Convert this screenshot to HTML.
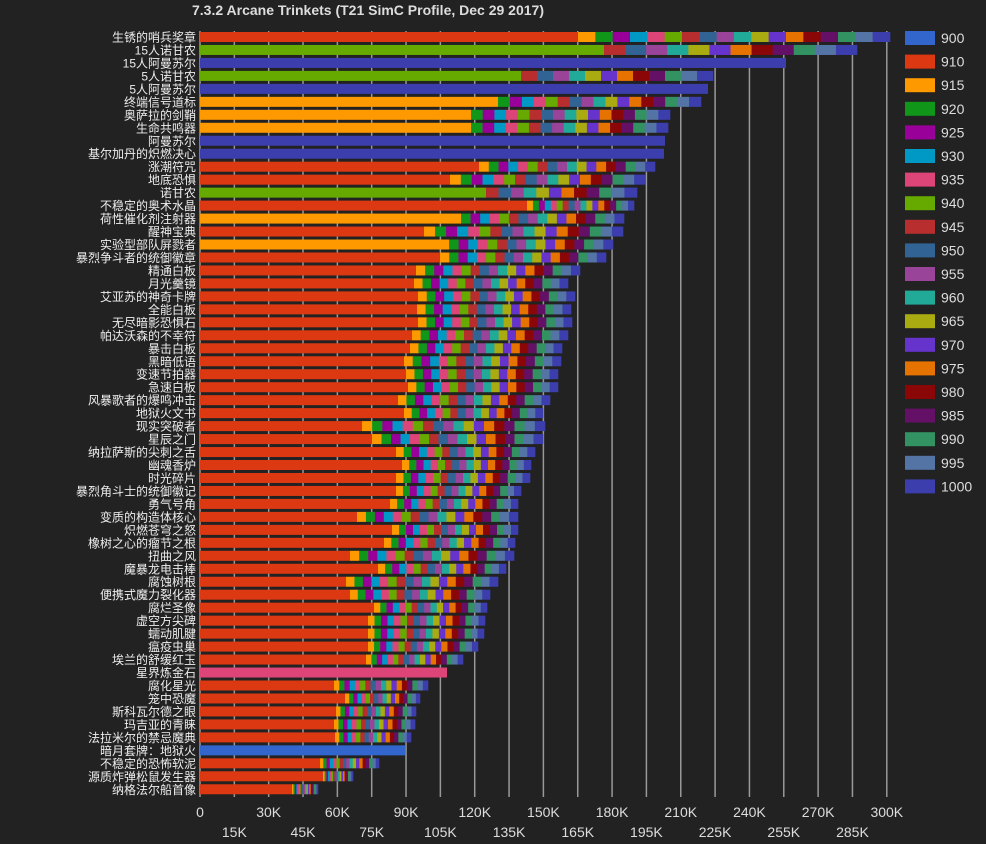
<!DOCTYPE html>
<html><head><meta charset="utf-8"><style>
body{margin:0;background:#222;width:986px;height:839px;overflow:hidden}
svg text{font-family:"Liberation Sans","Noto Sans CJK SC",sans-serif}
</style></head><body>
<svg id="s" width="986" height="839" xmlns="http://www.w3.org/2000/svg">
<rect width="986" height="839" fill="#222"/>
<text x="368" y="15" fill="#ddd" font-size="14" font-weight="bold" text-anchor="middle">7.3.2 Arcane Trinkets (T21 SimC Profile, Dec 29 2017)</text>
</svg>
<script>
const S=document.getElementById('s'),NS='http://www.w3.org/2000/svg';
function el(t,a,txt){const e=document.createElementNS(NS,t);for(const k in a)e.setAttribute(k,a[k]);if(txt!==undefined)e.textContent=txt;S.appendChild(e);return e;}
const il=[900,910,915,920,925,930,935,940,945,950,955,960,965,970,975,980,985,990,995,1000];
const col=['#3366cc','#dc3912','#ff9900','#109618','#990099','#0099c6','#dd4477','#66aa00','#b82e2e','#316395','#994499','#22aa99','#aaaa11','#6633cc','#e67300','#8b0707','#651067','#329262','#5574a6','#3b3eac'];
const x0=200,k=2.2893;
for(let v=0;v<=300;v+=15){const x=x0+v*k;el('line',{x1:x,x2:x,y1:31,y2:797,stroke:'#999','stroke-width':1.5});
 el('text',{x:x,y:(v/15)%2?837:817,fill:'#ddd','font-size':14,'text-anchor':'middle'},v?v+'K':'0');}
const R=[
['生锈的哨兵奖章',1,578,890],['15人诺甘农',7,604,857],['15人阿曼苏尔',19,786,786],['5人诺甘农',7,521,713],['5人阿曼苏尔',19,708,708],
['终端信号道标',2,498,701],['奥萨拉的剑鞘',2,471,670],['生命共鸣器',2,471,668],['阿曼苏尔',19,665,665],['基尔加丹的炽燃决心',19,664,664],
['涨潮符咒',1,479,655],['地底恐惧',1,450,645],['诺甘农',7,486,637],['不稳定的奥术水晶',1,527,634],['荷性催化剂注射器',2,461,624],
['醒神宝典',1,424,623],['实验型部队屏戮者',2,449,613],['暴烈争斗者的统御徽章',1,440,606],['精通白板',1,416,580],['月光羹镜',1,414,568],
['艾亚苏的神奇卡牌',1,418,575],['全能白板',1,417,571],['无尽暗影恐惧石',1,418,572],['帕达沃森的不幸符',1,412,568],['暴击白板',1,410,562],
['黑暗低语',1,404,561],['变速节拍器',1,406,558],['急速白板',1,408,558],['风暴歌者的爆鸣冲击',1,398,550],['地狱火文书',1,404,543],
['现实突破者',1,362,545],['星辰之门',1,372,543],['纳拉萨斯的尖刺之舌',1,396,535],['幽魂香炉',1,402,531],['时光碎片',1,396,530],
['暴烈角斗士的统御徽记',1,396,521],['勇气号角',1,390,518],['变质的构造体核心',1,357,518],['炽燃苍穹之怒',1,392,518],['橡树之心的瘤节之根',1,384,515],
['扭曲之风',1,350,514],['魔暴龙电击棒',1,378,506],['腐蚀树根',1,346,498],['便携式魔力裂化器',1,350,490],['腐烂圣像',1,374,487],
['虚空方尖碑',1,368,485],['蠕动肌腱',1,368,484],['瘟疫虫巢',1,368,478],['埃兰的舒缓红玉',1,366,463],['星界炼金石',6,447,447],
['腐化星光',1,334,428],['笼中恐魔',1,345,420],['斯科瓦尔德之眼',1,336,416],['玛吉亚的青睐',1,334,415],['法拉米尔的禁忌魔典',1,335,411],
['暗月套牌：地狱火',0,405,405],['不稳定的恐怖软泥',1,320,379],['源质炸弹松鼠发生器',1,323,353],['纳格法尔船首像',1,292,318]];
R.forEach((r,i)=>{const y=37+i*12.97;
 el('text',{x:196,y:y+4.5,fill:'#eee','font-size':12,'text-anchor':'end'},r[0]);
 el('rect',{x:x0,y:y-5,width:r[2]-x0,height:10,fill:col[r[1]]});
 const n=19-r[1];if(r[3]>r[2]&&n>0){const w=(r[3]-r[2])/n;for(let j=0;j<n;j++)el('rect',{x:r[2]+j*w,y:y-5,width:w+0.3,height:10,fill:col[r[1]+1+j]});}
});
il.forEach((v,i)=>{const y=31+i*23.6;el('rect',{x:905,y:y,width:30,height:14,fill:col[i]});
 el('text',{x:941,y:y+12,fill:'#ddd','font-size':14},v);});
</script>
</body></html>
